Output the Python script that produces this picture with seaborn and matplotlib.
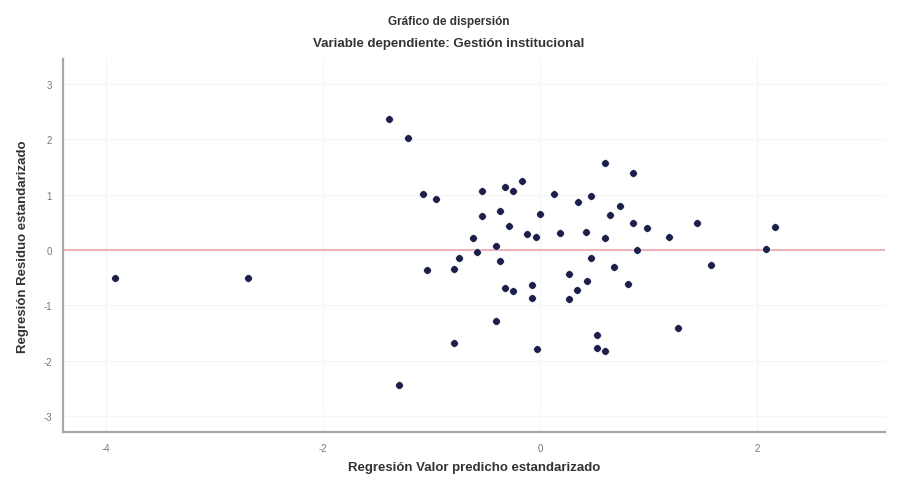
import pandas as pd
import numpy as np
import seaborn as sns
import matplotlib
matplotlib.use("Agg")
import matplotlib.pyplot as plt

# standardized predicted value (x) and standardized residual (y)
pred_std = [-3.92, -2.69, -1.39, -1.22, -1.08, -0.96, -1.04, -0.80, -0.75, -0.80,
            -1.30, -0.62, -0.58, -0.54, -0.54, -0.41, -0.37, -0.37, -0.33, -0.29,
            -0.25, -0.17, -0.41, -0.33, -0.25, -0.12, -0.08, -0.08, -0.03, -0.04,
            0.00, 0.13, 0.18, 0.26, 0.26, 0.34, 0.35, 0.43, 0.42, 0.47,
            0.47, 0.52, 0.52, 0.60, 0.60, 0.60, 0.68, 0.64, 0.73, 0.81,
            0.85, 0.85, 0.89, 0.98, 1.19, 1.27, 1.44, 1.57, 2.08, 2.16]
resid_std = [-0.50, -0.50, 2.37, 2.02, 1.01, 0.93, -0.37, -0.34, -0.14, -1.69,
             -2.44, 0.22, -0.04, 1.06, 0.61, 0.07, -0.20, 0.71, 1.13, 0.43,
             1.07, 1.24, -1.29, -0.68, -0.74, 0.29, -0.64, -0.87, -1.80, 0.24,
             0.65, 1.01, 0.30, -0.44, -0.89, -0.73, 0.86, -0.57, 0.33, -0.15,
             0.98, -1.53, -1.77, -1.83, 1.57, 0.21, -0.30, 0.63, 0.79, -0.62,
             1.39, 0.48, -0.01, 0.39, 0.23, -1.42, 0.49, -0.28, 0.02, 0.41]
x_ticks = [-4, -2, 0, 2]
y_ticks = [-3, -2, -1, 0, 1, 2, 3]

df = pd.DataFrame({'Valor predicho': pred_std, 'Residuo': resid_std})

sns.set_style("white")
plt.rcParams['font.family'] = ['Liberation Sans', 'DejaVu Sans']
plt.rcParams['axes.unicode_minus'] = False

fig = plt.figure(figsize=(8.98, 4.81), dpi=100)
ax = fig.add_axes([0.070, 0.100, 0.916, 0.775])

ax.axhline(0, color='#eca4ae', lw=1.2, zorder=1)
sns.scatterplot(data=df, x='Valor predicho', y='Residuo', ax=ax, s=30,
                color='#1c1f4a', edgecolor='white', linewidth=0.4, zorder=3)

ax.set_xlim(-4.4, 3.18)
ax.set_ylim(-3.29, 3.45)
ax.set_xticks(x_ticks)
ax.set_yticks(y_ticks)
ax.grid(True, color='#f5f5f5', lw=0.8, zorder=0)
ax.tick_params(length=0, labelsize=7, colors='#777777', pad=8)

for s in ['top', 'right']:
    ax.spines[s].set_visible(False)
for s in ['left', 'bottom']:
    ax.spines[s].set_color('#a8a8a8')
    ax.spines[s].set_linewidth(1.6)

ax.set_xlabel('Regresión Valor predicho estandarizado', fontsize=9.5,
              fontweight='bold', color='#333333', labelpad=6)
ax.set_ylabel('Regresión Residuo estandarizado', fontsize=9.5,
              fontweight='bold', color='#333333', labelpad=10)

fig.text(0.5, 0.955, 'Gráfico de dispersión', ha='center', va='center',
         fontsize=8.5, fontweight='bold', color='#333333')
fig.text(0.5, 0.908, 'Variable dependiente: Gestión institucional', ha='center',
         va='center', fontsize=9.5, fontweight='bold', color='#333333')

fig.savefig('out.png', dpi=100)
